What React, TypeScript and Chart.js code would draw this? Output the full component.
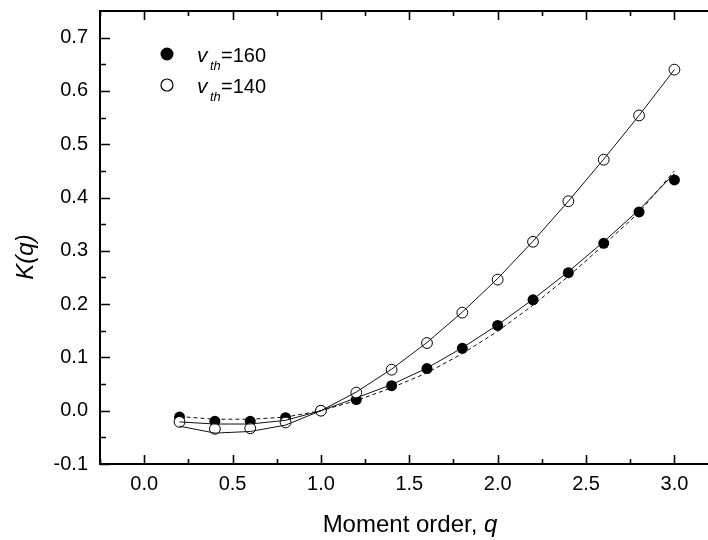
import React, { useEffect, useRef } from "react";
import { Chart, registerables } from "chart.js";

Chart.register(...registerables);

const qValues = [0.2, 0.4, 0.6, 0.8, 1.0, 1.2, 1.4, 1.6, 1.8, 2.0, 2.2, 2.4, 2.6, 2.8, 3.0];
const filled160 = [-0.012, -0.020, -0.020, -0.013, 0.0, 0.021, 0.047, 0.079, 0.117, 0.160, 0.208, 0.259, 0.314, 0.373, 0.433];
const hollow140 = [-0.021, -0.034, -0.033, -0.022, 0.0, 0.034, 0.077, 0.127, 0.184, 0.246, 0.317, 0.393, 0.471, 0.554, 0.640];
const fit160Solid = [-0.021, -0.025, -0.025, -0.018, 0.0, 0.024, 0.049, 0.080, 0.118, 0.161, 0.209, 0.261, 0.317, 0.377, 0.445];
const fit160Dashed = [-0.011, -0.016, -0.016, -0.012, 0.0, 0.019, 0.043, 0.071, 0.107, 0.149, 0.198, 0.252, 0.311, 0.372, 0.450];
const fit140Solid = [-0.029, -0.042, -0.039, -0.027, 0.0, 0.035, 0.078, 0.128, 0.185, 0.248, 0.318, 0.393, 0.472, 0.554, 0.640];

const xMajor = [0.0, 0.5, 1.0, 1.5, 2.0, 2.5, 3.0];
const xMinor = [-0.25, 0.25, 0.75, 1.25, 1.75, 2.25, 2.75, 3.25];
const yMajor = [-0.1, 0.0, 0.1, 0.2, 0.3, 0.4, 0.5, 0.6, 0.7];
const yMinor = [-0.05, 0.05, 0.15, 0.25, 0.35, 0.45, 0.55, 0.65];
const legendLabels = ["=160", "=140"];

const FONT = "'Liberation Sans', Arial, sans-serif";

const pts = (ys: number[]) => qValues.map((q, i) => ({ x: q, y: ys[i] }));

const framePlugin = {
  id: "frame",
  afterDraw(chart: any) {
    const ctx = chart.ctx;
    const { left, right, top, bottom } = chart.chartArea;
    const xs = chart.scales.x;
    const ys = chart.scales.y;
    ctx.save();
    ctx.strokeStyle = "#000";
    ctx.lineWidth = 2;
    ctx.beginPath();
    ctx.rect(left, top, right - left, bottom - top);
    ctx.stroke();
    ctx.lineWidth = 1.6;
    const tickX = (vals: number[], len: number) => {
      vals.forEach((v) => {
        const px = Math.round(xs.getPixelForValue(v)) + 0.5;
        ctx.beginPath();
        ctx.moveTo(px, bottom);
        ctx.lineTo(px, bottom - len);
        ctx.moveTo(px, top);
        ctx.lineTo(px, top + len);
        ctx.stroke();
      });
    };
    const tickY = (vals: number[], len: number) => {
      vals.forEach((v) => {
        const py = Math.round(ys.getPixelForValue(v)) + 0.5;
        ctx.beginPath();
        ctx.moveTo(left, py);
        ctx.lineTo(left + len, py);
        ctx.moveTo(right, py);
        ctx.lineTo(right - len, py);
        ctx.stroke();
      });
    };
    tickX(xMajor, 9);
    tickX(xMinor, 5);
    tickY(yMajor, 10);
    tickY(yMinor, 6);

    // legend
    ctx.fillStyle = "#000";
    ctx.beginPath();
    ctx.arc(167, 54, 6.5, 0, Math.PI * 2);
    ctx.fill();
    ctx.lineWidth = 1.2;
    ctx.beginPath();
    ctx.arc(167, 85, 6, 0, Math.PI * 2);
    ctx.stroke();
    const rows = [62, 93];
    legendLabels.forEach((lab, i) => {
      const base = rows[i];
      ctx.textBaseline = "alphabetic";
      ctx.textAlign = "left";
      ctx.font = `italic 21px ${FONT}`;
      ctx.fillText("v", 197, base);
      ctx.font = `italic 13px ${FONT}`;
      ctx.fillText("th", 210, base + 8);
      ctx.font = `20px ${FONT}`;
      ctx.fillText(lab, 221, base);
    });

    // y title
    ctx.save();
    ctx.translate(33, 257);
    ctx.rotate(-Math.PI / 2);
    ctx.font = `italic 24px ${FONT}`;
    ctx.textAlign = "center";
    ctx.textBaseline = "alphabetic";
    ctx.fillText("K(q)", 0, 0);
    ctx.restore();

    // x title
    ctx.font = `24px ${FONT}`;
    ctx.textAlign = "left";
    ctx.textBaseline = "alphabetic";
    const part1 = "Moment order, ";
    const w1 = ctx.measureText(part1).width;
    ctx.font = `italic 24px ${FONT}`;
    const w2 = ctx.measureText("q").width;
    const startX = 410 - (w1 + w2) / 2;
    ctx.font = `24px ${FONT}`;
    ctx.fillText(part1, startX, 532);
    ctx.font = `italic 24px ${FONT}`;
    ctx.fillText("q", startX + w1, 532);
    ctx.restore();
  },
};

export default function App() {
  const ref = useRef<HTMLCanvasElement>(null);
  useEffect(() => {
    if (!ref.current) return;
    const lineDs = (data: number[], dash: number[], order: number) => ({
      type: "line" as const,
      data: pts(data),
      borderColor: "#111",
      borderWidth: 1,
      borderDash: dash,
      pointRadius: 0,
      fill: false,
      tension: 0,
      order,
    });
    const chart = new Chart(ref.current, {
      type: "scatter",
      data: {
        datasets: [
          lineDs(fit140Solid, [], 0),
          lineDs(fit160Solid, [], 0),
          lineDs(fit160Dashed, [4, 3], 0),
          {
            type: "scatter",
            data: pts(hollow140),
            pointRadius: 5.4,
            pointBackgroundColor: "#fff",
            pointBorderColor: "#000",
            pointBorderWidth: 1,
            showLine: false,
            order: 1,
          } as any,
          {
            type: "scatter",
            data: pts(filled160),
            pointRadius: 5.5,
            pointBackgroundColor: "#000",
            pointBorderColor: "#000",
            pointBorderWidth: 0,
            showLine: false,
            order: 2,
          } as any,
        ],
      },
      options: {
        responsive: false,
        animation: false,
        devicePixelRatio: 1,
        layout: { padding: { top: 11, right: 0, left: 0, bottom: 0 } },
        plugins: { legend: { display: false }, tooltip: { enabled: false } },
        scales: {
          x: {
            type: "linear",
            min: -0.25,
            max: 3.25,
            afterBuildTicks: (s: any) => {
              s.ticks = xMajor.map((v) => ({ value: v }));
            },
            afterFit: (s: any) => {
              s.height = 76;
              s.paddingLeft = 0;
              s.paddingRight = 0;
            },
            grid: { display: false, drawTicks: false },
            border: { display: false },
            ticks: {
              padding: 8,
              color: "#000",
              font: { family: FONT, size: 20 },
              callback: (v: any) => Number(v).toFixed(1),
              maxRotation: 0,
              autoSkip: false,
            },
          },
          y: {
            type: "linear",
            min: -0.1,
            max: 0.75,
            afterBuildTicks: (s: any) => {
              s.ticks = yMajor.map((v) => ({ value: v }));
            },
            afterFit: (s: any) => {
              s.width = 100;
              s.paddingTop = 0;
              s.paddingBottom = 0;
            },
            grid: { display: false, drawTicks: false },
            border: { display: false },
            ticks: {
              padding: 12,
              color: "#000",
              font: { family: FONT, size: 20 },
              callback: (v: any) => Number(v).toFixed(1),
              autoSkip: false,
            },
          },
        },
      },
      plugins: [framePlugin],
    } as any);
    return () => chart.destroy();
  }, []);
  return (
    <div style={{ position: "absolute", left: 0, top: 0, width: 708, height: 540, overflow: "hidden", background: "#fff" }}>
      <canvas ref={ref} width={725} height={540} style={{ display: "block" }} />
    </div>
  );
}
